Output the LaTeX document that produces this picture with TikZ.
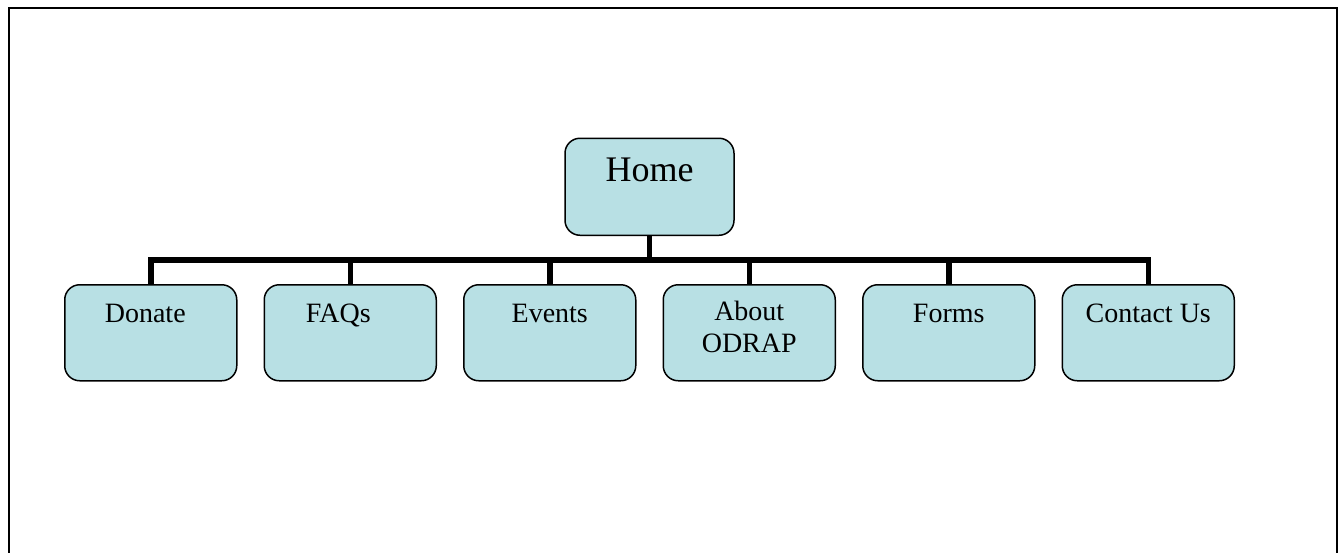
\documentclass[tikz,border=0pt]{standalone}
\usepackage{fontspec}
\setmainfont{Liberation Serif}
\usetikzlibrary{positioning}
\usetikzlibrary{calc}
\definecolor{paleaqua}{RGB}{184,224,228}

\begin{document}
\begin{tikzpicture}[
        x=1pt, y=-1pt,
        node distance=26pt,
        page/.style={draw=black, line width=2pt},
        box/.style={draw=black, line width=1.5pt, rounded corners=15pt, fill=paleaqua,
                    inner xsep=0pt, inner ysep=0pt, align=center},
        topbox/.style={box, minimum width=169pt, text height=43pt, text depth=54pt,
                    font=\fontsize{36}{40}\selectfont},
        subbox/.style={box, minimum width=172pt, text height=38pt, text depth=58pt,
                    font=\fontsize{28}{32}\selectfont},
        branch/.style={line width=5.5pt, line join=miter}
    ]
        \useasboundingbox (0,0) rectangle (1343,552);
        \clip (0,0) rectangle (1343,552);
        \draw[page] (9,8) rectangle (1337,580);

        \node[subbox, anchor=north west] (donate) at (64,284) {Donate\hspace*{11pt}};
        \node[subbox, right=of donate] (faqs) {FAQs\hspace*{24pt}};
        \node[subbox, right=of faqs] (events) {Events};
        \node[subbox, right=of events, text height=68pt, text depth=28pt] (about) {About\\ODRAP};
        \node[subbox, right=of about] (forms) {Forms};
        \node[subbox, right=of forms] (contact) {Contact Us};

        \coordinate (mid) at ($(events.north)!0.5!(about.north)$);
        \node[topbox, above=48pt of mid] (home) {Home};
        \coordinate (bus) at ($(home.south)!0.5!(mid)$);

        \foreach \n in {donate,faqs,events,about,forms,contact}
            \draw[branch] (home.south) -- (bus) -| (\n.north);
    \end{tikzpicture}
\end{document}
